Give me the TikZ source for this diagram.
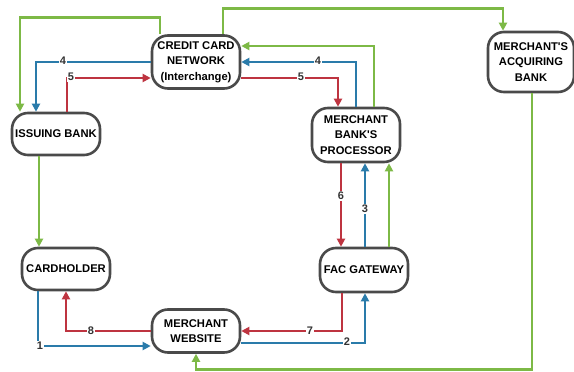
\documentclass[tikz,border=0pt]{standalone}
\usepackage{fontspec}
\setmainfont{Liberation Sans}
\usetikzlibrary{arrows.meta}

\definecolor{flowgreen}{HTML}{7DB946}
\definecolor{flowblue}{HTML}{2A7BAA}
\definecolor{flowred}{HTML}{BE3440}
\definecolor{boxgray}{HTML}{4A4A4A}

\begin{document}
\begin{tikzpicture}[
 x=1pt, y=-1pt,
 font=\bfseries\fontsize{11.2}{15.5}\selectfont,
 party/.style={draw=boxgray,line width=2.6pt,rounded corners=16pt,fill=white,align=center,inner sep=1pt,minimum width=88pt},
 flow/.style={line width=2.6pt,-{Triangle[length=8pt,width=8pt]}},
 greenflow/.style={flow,flowgreen},
 blueflow/.style={flow,flowblue},
 redflow/.style={flow,flowred},
 flownum/.style={fill=white,inner sep=1pt,text=black!80,font=\bfseries\fontsize{11}{12}\selectfont},
]
\useasboundingbox (0,0) rectangle (574,372);

% Parties
\node[party,minimum height=53pt] (ccn) at (196,62) {CREDIT CARD\\NETWORK\\(Interchange)};
\node[party,minimum height=42pt] (issuing) at (56,134) {ISSUING BANK};
\node[party,minimum height=54pt] (proc) at (356,135) {MERCHANT\\BANK\textquotesingle S\\PROCESSOR};
\node[party,minimum height=60pt,minimum width=86pt] (acq) at (531,62) {MERCHANT\textquotesingle S\\ACQUIRING\\BANK};
\node[party,minimum height=42pt] (card) at (66,269) {CARDHOLDER};
\node[party,minimum height=43pt] (web) at (196,331) {MERCHANT\\WEBSITE};
\node[party,minimum height=44pt] (fac) at (364,270) {FAC GATEWAY};

% Settlement (green)
\draw[greenflow] ([xshift=-36pt]ccn.north) -- ++(0,-17) -| ([xshift=-36pt]issuing.north);
\draw[greenflow] ([xshift=27pt]ccn.north) -- ++(0,-26) -| ([xshift=-28pt]acq.north);
\draw[greenflow] ([xshift=18pt]proc.north) |- ([yshift=16pt]ccn.east);
\draw[greenflow] ([xshift=-17pt]issuing.south) -- ([xshift=-27pt]card.north);
\draw[greenflow] ([xshift=25pt]fac.north) -- ([xshift=33pt]proc.south);
\draw[greenflow] ([xshift=1pt]acq.south) -- ++(0,276) -| (web.south);

% Authorization request (blue)
\draw[blueflow] ([xshift=-28pt]card.south) |- ([yshift=-15pt]web.west);
\draw[blueflow] ([yshift=-12pt]web.east) -| ([xshift=1pt]fac.south);
\draw[blueflow] ([xshift=1pt]fac.north) -- ([xshift=9pt]proc.south);
\draw[blueflow] (proc.north) |- (ccn.east);
\draw[blueflow] (ccn.west) -| ([xshift=-20pt]issuing.north);

% Authorization response (red)
\draw[redflow] ([xshift=11pt]issuing.north) |- ([yshift=-16pt]ccn.west);
\draw[redflow] ([yshift=-16pt]ccn.east) -| ([xshift=-18pt]proc.north);
\draw[redflow] ([xshift=-15pt]proc.south) -- ([xshift=-23pt]fac.north);
\draw[redflow] ([xshift=-22pt]fac.south) |- (web.east);
\draw[redflow] (web.west) -| (card.south);

% Step numbers
\node[flownum] (n1) at (40,346) {1};
\node[flownum] (n2) at (347,342) {2};
\node[flownum] (n3) at (365,209) {3};
\node[flownum] (n4a) at (318,61) {4};
\node[flownum] (n4b) at (63,61) {4};
\node[flownum] (n5a) at (71,77) {5};
\node[flownum] (n5b) at (301,77) {5};
\node[flownum] (n6) at (341,196) {6};
\node[flownum] (n7) at (310,331) {7};
\node[flownum] (n8) at (91,331) {8};
\end{tikzpicture}
\end{document}
